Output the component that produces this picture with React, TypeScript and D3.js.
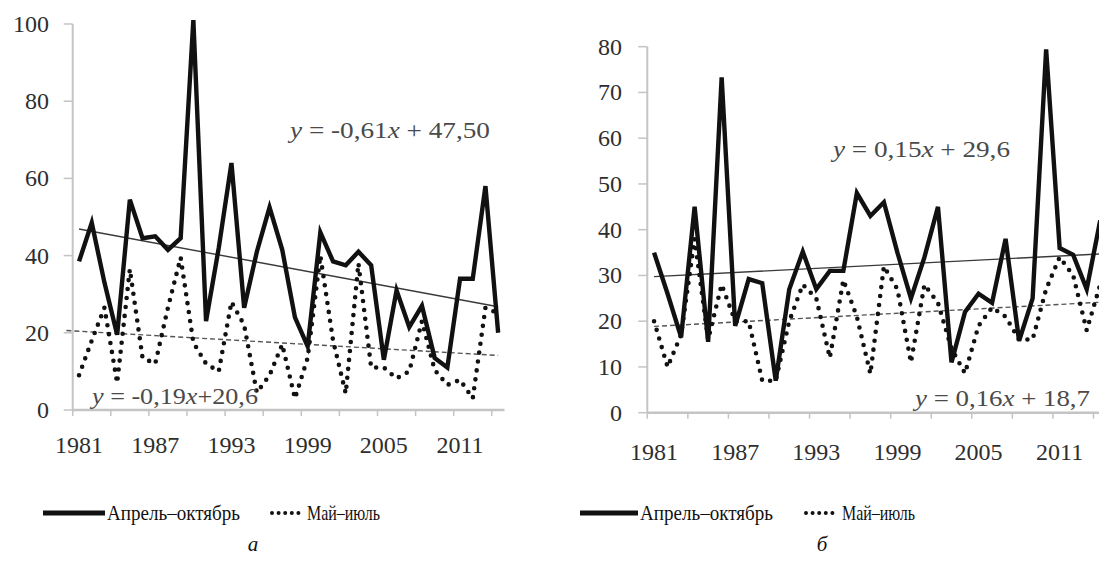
import React from 'react';
import * as d3 from 'd3';

// Years on the category axis
const years: number[] = d3.range(1981, 2015);
const labelYears = [1981, 1987, 1993, 1999, 2005, 2011];

// Panel а: April–October and May–July series
const aprOctA = [38.5, 48.5, 33, 19.5, 54.5, 44.5, 45, 41.5, 44.5, 101, 23, 42, 64, 26.5, 41, 52.5, 41.5, 24, 16.5, 46,
  38.5, 37.5, 41, 37.5, 13, 31, 21.5, 27, 13.5, 11, 34, 34, 58, 20];
const mayJulA = [9, 18, 26.5, 7, 36.5, 13.5, 12, 26.5, 39.5, 17.5, 12, 10, 28, 22, 4.5, 9, 17, 3, 13.5, 40,
  18, 4.3, 38, 11, 11, 8.2, 10, 23, 10.4, 6.5, 7.8, 3, 26.5, 25];

// Panel б
const aprOctB = [35, 26, 16.5, 45, 15.5, 73.3, 19, 29.2, 28.3, 7, 27, 35.2, 27, 31, 31, 48, 43, 46, 35, 25,
  34, 45, 11, 22, 26, 24, 38, 15.7, 25, 79.4, 36, 34.5, 27, 42];
const mayJulB = [20, 10, 17, 38, 16, 28, 20, 20, 7, 7, 20, 28, 25, 12, 29, 21, 8.5, 32, 27, 11,
  28, 24, 14, 8.6, 19, 23, 21, 16, 16, 27, 34, 30, 18, 28];

const yTicksA = [0, 20, 40, 60, 80, 100];
const yTicksB = [0, 10, 20, 30, 40, 50, 60, 70, 80];

// Linear trends: [slope, intercept] over x = 1..34
const trendSolidA = [-0.61, 47.5];
const trendDotA = [-0.19, 20.6];
const trendSolidB = [0.15, 29.6];
const trendDotB = [0.16, 18.7];

const seriesNames = ['Апрель–октябрь', 'Май–июль'];
const captions = ['а', 'б'];

const serif = { fontFamily: 'Liberation Serif' };
const AXIS = '#c4c4c4';
const TEXT = '#2e2e2e';

type Eq = { sign: string; slope: string; rest: string; x: number; y: number; len: number };

type PanelProps = {
  x0: number; step: number; yBottom: number; yTop: number; yMax: number; yTicks: number[];
  solid: number[]; dotted: number[]; tSolid: number[]; tDot: number[]; dotFrom: number;
  labelEnd: number; tickLen: number; xLabelY: number;
  eqSolid: Eq; eqDot: Eq;
  legendX: number[]; legendY: number; caption: string; captionX: number;
};

function Equation({ e }: { e: Eq }) {
  return (
    <text x={e.x} y={e.y} style={serif} fontSize={24} fill="#4a4a4a"
      textLength={e.len} lengthAdjust="spacingAndGlyphs">
      <tspan fontStyle="italic">y</tspan>
      <tspan>{e.sign}{e.slope}</tspan>
      <tspan fontStyle="italic">x</tspan>
      <tspan>{e.rest}</tspan>
    </text>
  );
}

function Panel(p: PanelProps) {
  const x = d3.scaleBand<number>().domain(years).range([p.x0, p.x0 + p.step * years.length]).padding(0);
  const cx = (yr: number) => (x(yr) as number) + x.bandwidth() / 2;
  const y = d3.scaleLinear().domain([0, p.yMax]).range([p.yBottom, p.yTop]);

  const line = d3.line<number>().x((_, i) => cx(years[i])).y((v) => y(v));
  // trend position: t = 1 for the first year
  const tx = d3.scaleLinear().domain([1, years.length]).range([cx(years[0]), cx(years[years.length - 1])]);
  const trendPath = (t: number[], from: number) =>
    d3.line<number>().x((k) => tx(k)).y((k) => y(t[0] * k + t[1]))([from, years.length]) as string;

  const boundaryTicks = years.filter((_, i) => i % 3 === 0).map((yr) => x(yr) as number);
  const [l1a, l1b, t1, d1a, d1b, t2] = p.legendX;

  return (
    <g>
      {/* axes */}
      <line x1={p.x0} x2={p.x0} y1={p.yBottom} y2={p.yTop} stroke={AXIS} strokeWidth={2} />
      <line x1={p.x0} x2={p.x0 + p.step * years.length} y1={p.yBottom} y2={p.yBottom} stroke={AXIS} strokeWidth={2.5} />
      {p.yTicks.map((t) => (
        <g key={t}>
          <line x1={p.x0 - p.tickLen} x2={p.x0} y1={y(t)} y2={y(t)} stroke={AXIS} strokeWidth={1.5} />
          <text x={p.labelEnd} y={y(t) + 8} textAnchor="end" style={serif} fontSize={24} fill={TEXT}>{t}</text>
        </g>
      ))}
      {boundaryTicks.map((bx, i) => (
        <line key={i} x1={bx} x2={bx} y1={p.yBottom} y2={p.yBottom + 6} stroke={AXIS} strokeWidth={1.5} />
      ))}
      {labelYears.map((yr) => (
        <text key={yr} x={cx(yr)} y={p.xLabelY} textAnchor="middle" style={serif} fontSize={24} fill={TEXT}>{yr}</text>
      ))}

      {/* trend lines */}
      <path d={trendPath(p.tSolid, 1)} fill="none" stroke="#3a3a3a" strokeWidth={1.4} />
      <path d={trendPath(p.tDot, p.dotFrom)} fill="none" stroke="#555" strokeWidth={1.4} strokeDasharray="5 3" />

      {/* series */}
      <path d={line(p.dotted) as string} fill="none" stroke="#111" strokeWidth={4.6}
        strokeLinecap="round" strokeDasharray="0 9" />
      <path d={line(p.solid) as string} fill="none" stroke="#111" strokeWidth={4.4} strokeLinejoin="miter" />

      <Equation e={p.eqSolid} />
      <Equation e={p.eqDot} />

      {/* legend */}
      <line x1={l1a} x2={l1b} y1={p.legendY} y2={p.legendY} stroke="#111" strokeWidth={5} />
      <text x={t1} y={p.legendY + 7} style={serif} fontSize={22} fill="#111"
        textLength={133} lengthAdjust="spacingAndGlyphs">{seriesNames[0]}</text>
      <line x1={d1a} x2={d1b} y1={p.legendY} y2={p.legendY} stroke="#111" strokeWidth={4}
        strokeLinecap="round" strokeDasharray="0 6.6" />
      <text x={t2} y={p.legendY + 7} style={serif} fontSize={22} fill="#111"
        textLength={73} lengthAdjust="spacingAndGlyphs">{seriesNames[1]}</text>
      <text x={p.captionX} y={551} style={serif} fontSize={21} fontStyle="italic" fill="#111"
        textAnchor="middle">{p.caption}</text>
    </g>
  );
}

export default function App() {
  return (
    <svg width={1099} height={561} viewBox="0 0 1099 561"
      style={{ position: 'absolute', left: 0, top: 0, background: '#fff' }}>
      <rect width={1099} height={561} fill="#fff" />
      <Panel x0={72.7} step={12.7} yBottom={410} yTop={24} yMax={100} yTicks={yTicksA}
        solid={aprOctA} dotted={mayJulA} tSolid={trendSolidA} tDot={trendDotA} dotFrom={0}
        labelEnd={49} tickLen={9} xLabelY={453}
        eqSolid={{ sign: ' = -', slope: '0,61', rest: ' + 47,50', x: 290, y: 138, len: 200 }}
        eqDot={{ sign: ' = -', slope: '0,19', rest: '+20,6', x: 92, y: 404, len: 166 }}
        legendX={[43, 105, 107, 272, 304, 307]} legendY={513} caption={captions[0]} captionX={253} />
      <Panel x0={647.3} step={13.52} yBottom={412.7} yTop={46.7} yMax={80} yTicks={yTicksB}
        solid={aprOctB} dotted={mayJulB} tSolid={trendSolidB} tDot={trendDotB} dotFrom={1}
        labelEnd={622} tickLen={9} xLabelY={460}
        eqSolid={{ sign: ' = ', slope: '0,15', rest: ' + 29,6', x: 833, y: 157, len: 177 }}
        eqDot={{ sign: ' = ', slope: '0,16', rest: ' + 18,7', x: 915, y: 406, len: 175 }}
        legendX={[580, 638, 640, 806, 838, 842]} legendY={513} caption={captions[1]} captionX={822} />
    </svg>
  );
}
